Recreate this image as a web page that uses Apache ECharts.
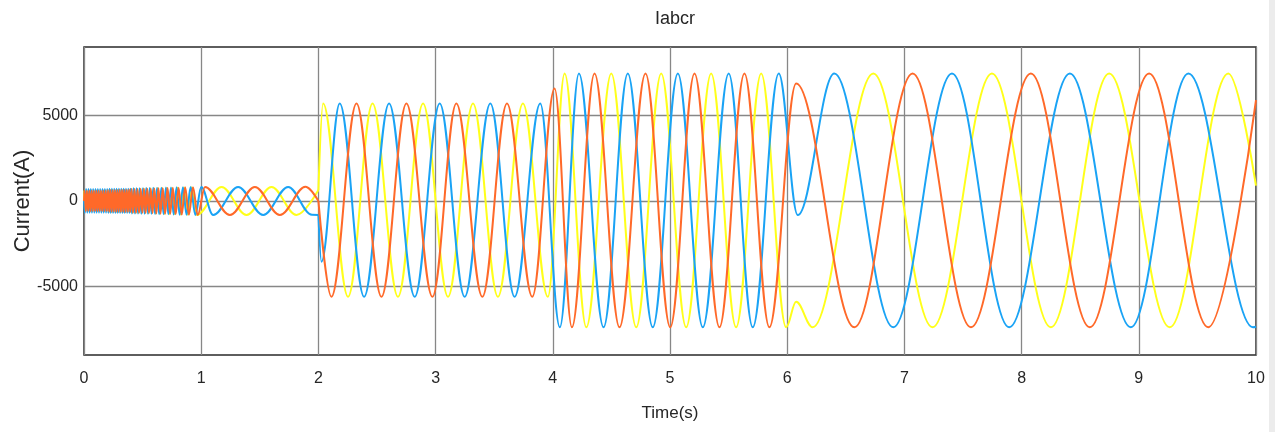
<!DOCTYPE html>
<html><head><meta charset="utf-8">
<script src="https://cdn.jsdelivr.net/npm/echarts@6/dist/echarts.min.js"></script>
<style>html,body{margin:0;padding:0;background:#fff;}#c{width:1275px;height:432px;}</style>
</head><body><div id="c"></div>
<script>
// ---- axis ticks / labels ----
const xTicks = [0,1,2,3,4,5,6,7,8,9,10];
const yTicks = [-5000,0,5000];
const titleText = 'Iabcr';
const xName = 'Time(s)';
const yName = 'Current(A)';
const phaseColors = ['#FFFF1A', '#1AA3F5', '#FF6929'];

// ---- waveform extrema [time s, current A] ----
// phase drawn in yellow
const yellowSeg1 = [
 [0,0],[0.002,620],[0.012,-600],[0.022,620],[0.032,-600],[0.042,620],[0.052,-600],[0.062,620],[0.072,-600],[0.082,620],[0.092,-600],
 [0.102,620],[0.112,-600],[0.122,620],[0.132,-600],[0.142,620],[0.152,-600],[0.162,620],[0.172,-600],[0.182,620],[0.192,-600],
 [0.202,660],[0.212,-640],[0.222,660],[0.232,-640],[0.242,660],[0.252,-640],[0.262,660],[0.272,-640],[0.282,660],[0.292,-640],
 [0.302,660],[0.312,-640],[0.322,660],[0.332,-640],[0.342,660],[0.352,-640],[0.362,660],[0.372,-640],[0.382,660],[0.392,-640],
 [0.401,720],[0.413,-700],[0.426,720],[0.439,-700],[0.452,720],[0.465,-700],[0.479,720],[0.493,-710],[0.507,730],[0.521,-710],
 [0.535,730],[0.550,-720],[0.565,740],[0.580,-720],[0.595,740],
 [0.611,-740],[0.629,760],[0.647,-750],[0.666,770],[0.686,-760],[0.706,780],[0.728,-770],[0.750,780],[0.774,-780],[0.798,790],
 [0.825,-790],[0.853,800],[0.884,-800],[0.918,810],
 [0.961,-820],[1.174,820],[1.387,-820],[1.600,820],[1.813,-820],[2.0,640]
];
const yellowSeg2 = [
 [2.0,640],[2.040,5700],[2.253,-5600],[2.462,5700],[2.679,-5600],[2.893,5700],[3.106,-5600],[3.319,5700],[3.532,-5600],[3.745,5700],[3.958,-5600],
 [4.101,7450],[4.286,-7380],[4.499,7450],[4.712,-7380],[4.925,7450],[5.138,-7380],[5.351,7450],[5.564,-7380],[5.778,7450],[5.991,-7380],
 [6.076,-5890],[6.217,-7380],[6.735,7450],[7.240,-7380],[7.747,7450],[8.250,-7380],[8.747,7450],[9.264,-7380],[9.764,7450],[10,900]
];
// phase drawn in blue
const blueSeg1 = [
 [0,0],[0.008,-680],[0.018,700],[0.028,-680],[0.038,700],[0.048,-680],[0.058,700],[0.068,-680],[0.078,700],[0.088,-680],[0.098,700],
 [0.108,-680],[0.118,700],[0.128,-680],[0.138,700],[0.148,-680],[0.158,700],[0.168,-680],[0.178,700],[0.188,-680],[0.198,700],
 [0.208,-700],[0.218,720],[0.228,-700],[0.238,720],[0.248,-700],[0.258,720],[0.268,-700],[0.278,720],[0.288,-700],[0.298,720],
 [0.308,-700],[0.318,720],[0.328,-700],[0.338,720],[0.348,-700],[0.358,720],[0.368,-700],[0.378,720],[0.388,-700],[0.398,720],
 [0.409,-730],[0.422,740],[0.435,-730],[0.448,740],[0.461,-730],[0.475,750],[0.489,-740],[0.503,750],[0.517,-740],[0.531,760],
 [0.546,-750],[0.561,760],[0.576,-750],[0.591,770],[0.606,-760],
 [0.623,770],[0.641,-770],[0.660,780],[0.679,-770],[0.699,790],[0.720,-780],[0.742,790],[0.765,-790],[0.790,800],[0.816,-800],
 [0.844,810],[0.875,-810],[0.910,820],[0.950,-820],[1.000,820],
 [1.102,-820],[1.315,820],[1.529,-820],[1.742,820],[1.945,-810],[2.0,-820]
];
const blueSeg2 = [
 [2.0,-820],[2.026,-3550],[2.182,5700],[2.390,-5600],[2.603,5700],[2.822,-5600],[3.035,5700],[3.248,-5600],[3.467,5700],[3.674,-5600],[3.893,5700],
 [4.060,-7380],[4.223,7450],[4.433,-7380],[4.640,7450],[4.853,-7380],[5.067,7450],[5.280,-7380],[5.501,7450],[5.706,-7380],[5.928,7450],
 [6.090,-820],[6.402,7450],[6.905,-7380],[7.406,7450],[7.894,-7380],[8.412,7450],[8.932,-7380],[9.423,7450],[9.974,-7380],[10,-7350]
];
// phase drawn in orange
const orangeSeg1 = [
 [0,0],[0.005,620],[0.015,-600],[0.025,620],[0.035,-600],[0.045,620],[0.055,-600],[0.065,620],[0.075,-600],[0.085,620],[0.095,-600],
 [0.105,620],[0.115,-600],[0.125,620],[0.135,-600],[0.145,620],[0.155,-600],[0.165,620],[0.175,-600],[0.185,620],[0.195,-600],
 [0.205,650],[0.215,-630],[0.225,650],[0.235,-630],[0.245,650],[0.255,-630],[0.265,650],[0.275,-630],[0.285,650],[0.295,-630],
 [0.305,660],[0.315,-640],[0.325,660],[0.335,-640],[0.345,660],[0.355,-640],[0.365,660],[0.375,-640],[0.385,670],[0.395,-650],
 [0.405,700],[0.418,-690],[0.431,700],[0.444,-690],[0.457,700],[0.470,-690],[0.484,700],[0.498,-690],[0.512,710],[0.526,-700],
 [0.540,710],[0.555,-700],[0.570,720],[0.585,-710],[0.600,730],
 [0.617,-730],[0.635,740],[0.653,-740],[0.672,750],[0.692,-750],[0.713,760],[0.735,-760],[0.758,770],[0.782,-770],[0.807,780],
 [0.834,-790],[0.863,800],[0.895,-800],[0.930,810],[0.970,-820],[1.032,820],
 [1.245,-820],[1.458,820],[1.671,-820],[1.890,830],[2.0,0]
];
const orangeSeg2 = [
 [2.0,0],[2.111,-5600],[2.325,5700],[2.538,-5600],[2.751,5700],[2.973,-5600],[3.177,5700],[3.399,-5600],[3.609,5700],[3.825,-5600],
 [4.015,6580],[4.163,-7380],[4.356,7450],[4.569,-7380],[4.791,7450],[5.002,-7380],[5.209,7450],[5.422,-7380],[5.635,7450],[5.848,-7380],
 [6.076,6870],[6.573,-7380],[7.070,7450],[7.568,-7380],[8.079,7450],[8.582,-7380],[9.088,7450],[9.593,-7380],[10,5890]
];

const phases = [
  {name:'Ia', color: phaseColors[0], segs:[yellowSeg1, yellowSeg2]},
  {name:'Ib', color: phaseColors[1], segs:[blueSeg1, blueSeg2]},
  {name:'Ic', color: phaseColors[2], segs:[orangeSeg1, orangeSeg2]}
];

const series = [];
phases.forEach(p => p.segs.forEach(seg => series.push({
  name: p.name, type:'line', data: seg, showSymbol:false, symbol:'none',
  smooth: 0.36, smoothMonotone:'x', clip:true,
  lineStyle:{color:p.color, width:2}, itemStyle:{color:p.color},
  emphasis:{disabled:true}, silent:true
})));

const font = "'Liberation Sans', Arial, sans-serif";
const gridColor = '#878787';
const frameColor = '#2a2a2a';
const textColor = '#262626';

const chart = echarts.init(document.getElementById('c'), null, {renderer:'canvas'});
chart.setOption({
  animation:false,
  backgroundColor:'#ffffff',
  title:{text:titleText, left:670, top:5, textAlign:'center',
    textStyle:{fontFamily:font, fontSize:18, fontWeight:'normal', color:textColor}},
  grid:{left:84, right:19, top:47, bottom:77, containLabel:false, outerBoundsMode:'none',
    show:true, borderColor:frameColor, borderWidth:1.5, backgroundColor:'#fff', z:0},
  xAxis:{
    type:'value', min:0, max:10, interval:1, position:'bottom',
    name:xName, nameLocation:'middle', nameGap:50, nameMoveOverlap:false,
    nameTextStyle:{fontFamily:font, fontSize:17, color:textColor},
    axisLine:{show:false},
    axisTick:{show:false, customValues:xTicks},
    axisLabel:{fontFamily:font, fontSize:16, color:textColor, margin:16, customValues:xTicks, formatter: v => String(v)},
    splitLine:{show:true, lineStyle:{color:gridColor, width:1.3}}
  },
  yAxis:{
    type:'value', min:-9000, max:9000, interval:1000, position:'left',
    name:yName, nameLocation:'middle', nameGap:50, nameRotate:90, nameMoveOverlap:false,
    nameTextStyle:{fontFamily:font, fontSize:22, color:textColor},
    axisLine:{show:false},
    axisTick:{show:false, customValues:yTicks},
    axisLabel:{fontFamily:font, fontSize:16, color:textColor, margin:6, customValues:yTicks, formatter: v => String(v)},
    splitLine:{show:true, lineStyle:{color:gridColor, width:1.3}}
  },
  graphic:[{type:'rect', left:1269, top:0, shape:{width:6, height:432}, style:{fill:'#ececec'}, silent:true}],
  series: series
});
</script></body></html>
